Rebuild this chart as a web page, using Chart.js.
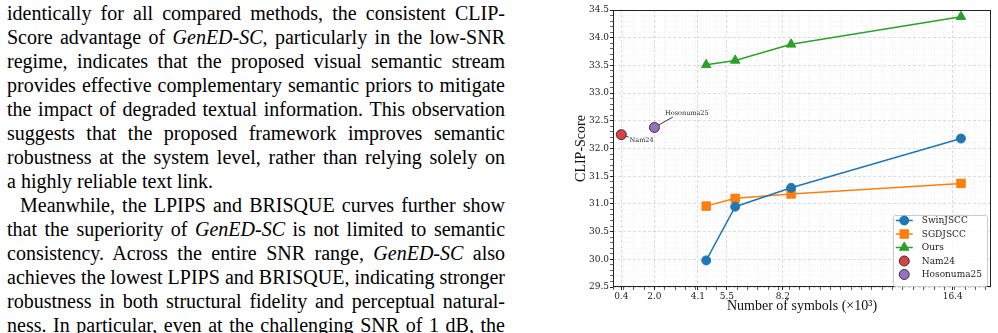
<!DOCTYPE html>
<html>
<head>
<meta charset="utf-8">
<title>CLIP-Score vs number of symbols</title>
<script src="https://cdn.jsdelivr.net/npm/chart.js"></script>
<style>
  html, body { margin: 0; padding: 0; background: #fff; }
  body { width: 998px; height: 333px; position: relative; overflow: hidden; }
  #text {
    position: absolute; left: 7px; top: 1px; width: 498px;
    font-family: "Liberation Serif", "Times New Roman", serif;
    font-size: 20px; line-height: 24px; color: #000;
  }
  #text .ln { text-align: justify; text-align-last: justify; }
  #text .last { text-align: left; text-align-last: left; }
  #text .ind { padding-left: 13px; }
  #chartBox { position: absolute; left: 560px; top: 0; width: 438px; height: 333px; }
</style>
</head>
<body>
  <div id="text">
    <div class="ln">identically for all compared methods, the consistent CLIP-</div>
    <div class="ln">Score advantage of <i>GenED-SC</i>, particularly in the low-SNR</div>
    <div class="ln">regime, indicates that the proposed visual semantic stream</div>
    <div class="ln">provides effective complementary semantic priors to mitigate</div>
    <div class="ln">the impact of degraded textual information. This observation</div>
    <div class="ln">suggests that the proposed framework improves semantic</div>
    <div class="ln">robustness at the system level, rather than relying solely on</div>
    <div class="ln last">a highly reliable text link.</div>
    <div class="ln ind">Meanwhile, the LPIPS and BRISQUE curves further show</div>
    <div class="ln">that the superiority of <i>GenED-SC</i> is not limited to semantic</div>
    <div class="ln">consistency. Across the entire SNR range, <i>GenED-SC</i> also</div>
    <div class="ln">achieves the lowest LPIPS and BRISQUE, indicating stronger</div>
    <div class="ln">robustness in both structural fidelity and perceptual natural-</div>
    <div class="ln">ness. In particular, even at the challenging SNR of 1 dB, the</div>
  </div>

  <div id="chartBox"><canvas id="myChart"></canvas></div>

  <script>
    // data (x in units of 10^3 symbols)
    const symbolsK = [4.5, 5.9, 8.6, 16.8];
    const swinjscc = [29.98, 30.95, 31.29, 32.18];
    const sgdjscc  = [30.96, 31.10, 31.18, 31.37];
    const ours     = [33.51, 33.59, 33.88, 34.38];
    const nam24X = [0.4];
    const nam24Y = [32.25];
    const hosonuma25X = [2.0];
    const hosonuma25Y = [32.38];
    const xTickLabels = [0.4, 2.0, 4.1, 5.5, 8.2, 16.4];

    const tickFont = { family: 'DejaVu Serif', size: 9 };
    const titleFont = { family: 'Liberation Serif', size: 14 };

    function toPoints(xs, ys) {
      return xs.map((x, i) => ({ x: x, y: ys[i] }));
    }

    // minor ticks every 0.5 on x, every 0.1 on y, plus the labelled ones
    const xMinor = [];
    for (let k = 0; k <= 36; k++) xMinor.push(k / 2);
    const xAll = Array.from(new Set(xMinor.concat(xTickLabels))).sort((a, b) => a - b);
    const yAll = [];
    for (let k = 295; k <= 345; k++) yAll.push(k / 10);

    const isXMajor = v => xTickLabels.includes(v);
    const isYMajor = v => Math.abs(v * 2 - Math.round(v * 2)) < 1e-6;

    function drawMarker(ctx, style, radius, x, y) {
      if (Chart.helpers && Chart.helpers.drawPoint) {
        Chart.helpers.drawPoint(ctx, { pointStyle: style, radius: radius, rotation: 0, borderWidth: ctx.lineWidth }, x, y);
        return;
      }
      ctx.beginPath();
      ctx.arc(x, y, radius, 0, Math.PI * 2);
      ctx.fill();
    }

    // frame around the plot (matplotlib spines)
    const framePlugin = {
      id: 'frame',
      afterDatasetsDraw(chart) {
        const a = chart.chartArea, ctx = chart.ctx;
        ctx.save();
        ctx.strokeStyle = '#222';
        ctx.lineWidth = 1;
        ctx.strokeRect(Math.round(a.left) + 0.5, Math.round(a.top) + 0.5,
                       Math.round(a.right - a.left) - 1, Math.round(a.bottom - a.top) - 1);
        ctx.restore();
      }
    };

    // small text labels next to the single-point baselines
    const notePlugin = {
      id: 'notes',
      afterDatasetsDraw(chart) {
        const ctx = chart.ctx;
        ctx.save();
        chart.data.datasets.forEach((ds, i) => {
          if (!ds.note) return;
          const pt = chart.getDatasetMeta(i).data[0];
          const n = ds.note;
          const len = Math.hypot(n.lx, n.ly);
          ctx.strokeStyle = '#222';
          ctx.lineWidth = 0.9;
          ctx.beginPath();
          ctx.moveTo(pt.x + n.lx / len * ds.pointRadius, pt.y + n.ly / len * ds.pointRadius);
          ctx.lineTo(pt.x + n.lx, pt.y + n.ly);
          ctx.stroke();
          ctx.fillStyle = '#222';
          ctx.font = '6.5px "DejaVu Serif"';
          ctx.textBaseline = 'middle';
          ctx.textAlign = 'left';
          ctx.fillText(ds.label, pt.x + n.tx, pt.y + n.ty);
        });
        ctx.restore();
      }
    };

    // legend in the lower right corner of the plot
    const legendPlugin = {
      id: 'innerLegend',
      afterDraw(chart) {
        const ctx = chart.ctx, a = chart.chartArea;
        const ds = chart.data.datasets;
        ctx.save();
        ctx.font = '9px "DejaVu Serif"';
        const textW = Math.max(...ds.map(d => ctx.measureText(d.label).width));
        const rowH = 13.5;
        const w = 29 + textW + 5;
        const h = rowH * ds.length + 3;
        const x0 = a.right - 4 - w;
        const y0 = a.bottom - 2 - h;
        ctx.fillStyle = 'rgba(255,255,255,0.85)';
        ctx.strokeStyle = '#cccccc';
        ctx.lineWidth = 1;
        ctx.beginPath();
        ctx.roundRect(Math.round(x0) + 0.5, Math.round(y0) + 0.5, Math.round(w), Math.round(h), 2);
        ctx.fill();
        ctx.stroke();
        ds.forEach((d, i) => {
          const cy = y0 + 6 + i * rowH;
          const cx = x0 + 11.5;
          if (d.showLine) {
            ctx.strokeStyle = d.borderColor;
            ctx.lineWidth = d.borderWidth;
            ctx.beginPath();
            ctx.moveTo(x0 + 3, cy);
            ctx.lineTo(x0 + 20, cy);
            ctx.stroke();
          }
          ctx.fillStyle = d.pointBackgroundColor;
          ctx.strokeStyle = d.pointBorderColor;
          ctx.lineWidth = d.pointBorderWidth;
          drawMarker(ctx, d.pointStyle, d.pointRadius, cx, cy);
          ctx.fillStyle = '#222';
          ctx.textBaseline = 'middle';
          ctx.textAlign = 'left';
          ctx.fillText(d.label, x0 + 29, cy + 0.5);
        });
        ctx.restore();
      }
    };

    function lineSet(label, ys, color, style, radius) {
      return {
        label: label,
        data: toPoints(symbolsK, ys),
        showLine: true,
        borderColor: color,
        backgroundColor: color,
        borderWidth: 1.5,
        pointStyle: style,
        pointRadius: radius,
        pointHoverRadius: radius,
        pointBackgroundColor: color,
        pointBorderColor: color,
        pointBorderWidth: 1
      };
    }

    function baselineSet(label, xs, ys, color, note) {
      return {
        label: label,
        data: toPoints(xs, ys),
        showLine: false,
        borderColor: '#333',
        backgroundColor: color,
        pointStyle: 'circle',
        pointRadius: 5,
        pointHoverRadius: 5,
        pointBackgroundColor: color,
        pointBorderColor: '#333',
        pointBorderWidth: 1,
        note: note
      };
    }

    const ctx = document.getElementById('myChart').getContext('2d');
    const myChart = new Chart(ctx, {
      type: 'scatter',
      data: {
        datasets: [
          lineSet('SwinJSCC', swinjscc, '#1f77b4', 'circle', 4.5),
          lineSet('SGDJSCC', sgdjscc, '#ff7f0e', 'rect', 6),
          lineSet('Ours', ours, '#2ca02c', 'triangle', 5.5),
          baselineSet('Nam24', nam24X, nam24Y, 'rgba(214,39,40,0.88)', { lx: 7.3, ly: 2.4, tx: 8.3, ty: 5.7 }),
          baselineSet('Hosonuma25', hosonuma25X, hosonuma25Y, 'rgba(148,103,189,0.95)', { lx: 18.4, ly: -10.4, tx: 10.7, ty: -14 })
        ]
      },
      options: {
        responsive: true,
        maintainAspectRatio: false,
        animation: false,
        devicePixelRatio: 1,
        layout: { padding: { left: 0, top: 10, right: 7, bottom: 0 } },
        plugins: {
          legend: { display: false },
          tooltip: { enabled: false }
        },
        scales: {
          x: {
            type: 'linear',
            min: 0,
            max: 18.25,
            afterBuildTicks: s => { s.ticks = xAll.map(v => ({ value: v })); },
            afterFit: s => { s.height = 46; },
            border: {
              display: false,
              dash: c => (c.tick && isXMajor(c.tick.value)) ? [3, 2] : [1, 2]
            },
            grid: {
              color: c => (c.tick && isXMajor(c.tick.value)) ? 'rgba(0,0,0,0.17)' : 'rgba(0,0,0,0.09)',
              lineWidth: 0.8,
              tickColor: '#222',
              tickLength: 3,
              tickWidth: c => (c.tick && isXMajor(c.tick.value)) ? 1 : 0.7,
              tickBorderDash: []
            },
            ticks: {
              autoSkip: false,
              maxRotation: 0,
              padding: 1,
              color: '#222',
              font: tickFont,
              callback: v => isXMajor(v) ? v.toFixed(1) : ''
            },
            title: {
              display: true,
              text: 'Number of symbols (×10³)',
              color: '#111',
              font: titleFont,
              padding: { top: 0, bottom: 18 }
            }
          },
          y: {
            min: 29.5,
            max: 34.5,
            afterBuildTicks: s => { s.ticks = yAll.map(v => ({ value: v })); },
            afterFit: s => { s.width = 53; },
            border: {
              display: false,
              dash: c => (c.tick && isYMajor(c.tick.value)) ? [3, 2] : [1, 2]
            },
            grid: {
              color: c => (c.tick && isYMajor(c.tick.value)) ? 'rgba(0,0,0,0.17)' : 'rgba(0,0,0,0.08)',
              lineWidth: 0.8,
              tickColor: '#222',
              tickLength: 3,
              tickWidth: c => (c.tick && isYMajor(c.tick.value)) ? 1 : 0.7,
              tickBorderDash: []
            },
            ticks: {
              autoSkip: false,
              padding: 1,
              color: '#222',
              font: tickFont,
              callback: v => isYMajor(v) ? v.toFixed(1) : ''
            },
            title: {
              display: true,
              text: 'CLIP-Score',
              color: '#111',
              font: titleFont,
              padding: { top: 13, bottom: 0 }
            }
          }
        }
      },
      plugins: [framePlugin, notePlugin, legendPlugin]
    });
  </script>
</body>
</html>
